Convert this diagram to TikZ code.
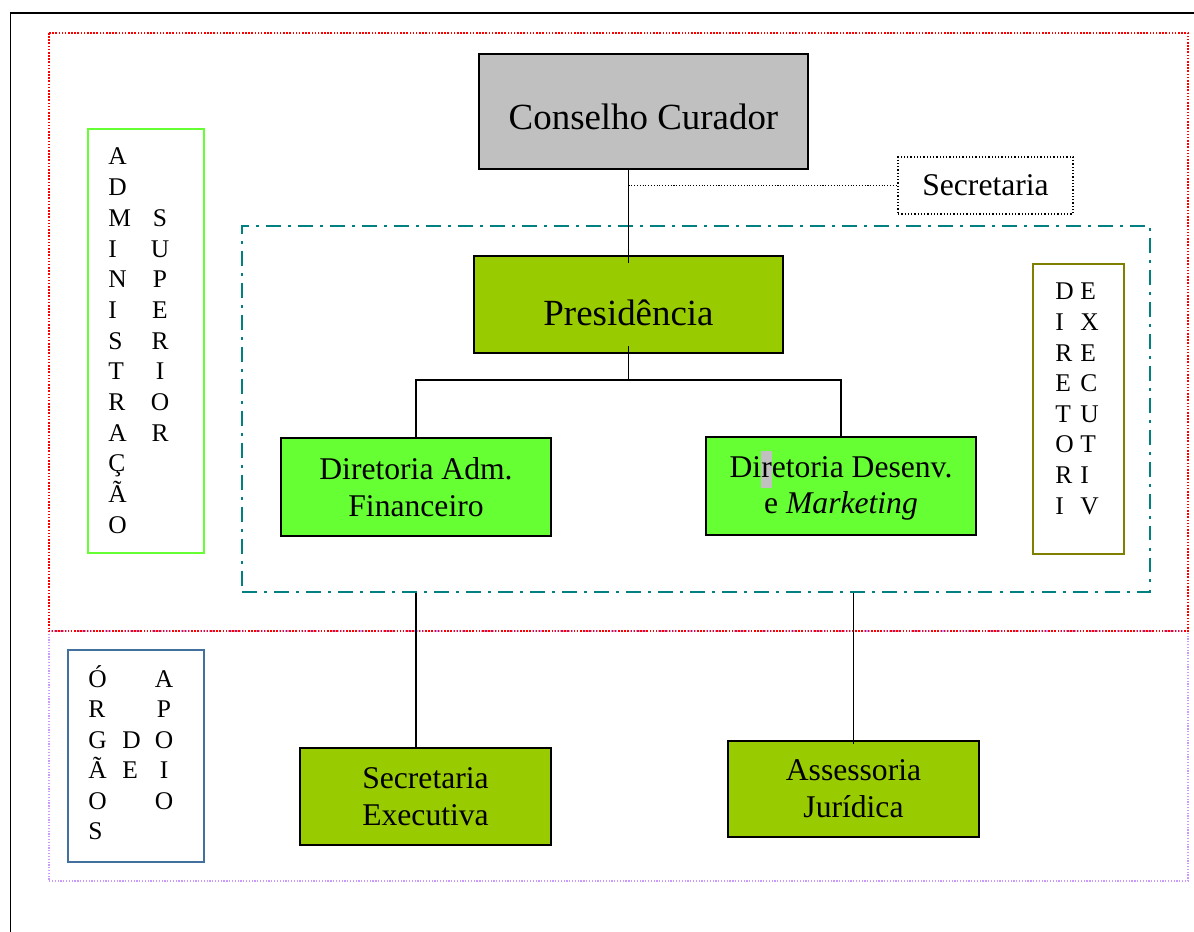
\documentclass[tikz,border=0pt]{standalone}
\usepackage{fontspec}
\setmainfont{Liberation Serif}
\usepackage{xcolor}
\usepackage{tikz}
\usetikzlibrary{positioning, calc}
\definecolor{cinza}{HTML}{C0C0C0}
\definecolor{oliva}{HTML}{99CC00}
\definecolor{verde}{HTML}{66FF33}
\definecolor{violeta}{HTML}{CC99FF}
\definecolor{petroleo}{HTML}{008080}
\definecolor{musgo}{HTML}{808000}
\definecolor{azul}{HTML}{41719C}
\tikzstyle{link} = [line width=0.8pt]
\tikzstyle{unit} = [rectangle, draw=black, line width=1pt, align=center, inner sep=0pt, font=\fontsize{18}{21}\selectfont]
\tikzstyle{topunit} = [unit, font=\fontsize{21}{25}\selectfont, text depth=0pt]
\tikzstyle{faixa} = [rectangle, line width=1.2pt, inner sep=0pt]
\tikzstyle{letra} = [inner sep=0pt, font=\fontsize{14.5}{17.4}\selectfont]

\begin{document}
\begin{tikzpicture}[x=0.02cm, y=-0.02cm]
    \useasboundingbox (0,0) rectangle (1194,932);

    % Frame and areas
    \draw[line width=1.1pt] (1194,13) -- (10.5,13) -- (10.5,932);
    \draw[violeta, line width=0.7pt, dash pattern=on 0.7pt off 0.9pt] (49,631) rectangle (1188,881);
    \draw[red, line width=0.9pt, dash pattern=on 0.9pt off 0.9pt] (49,33) rectangle (1188,631);
    \node[faixa, draw=petroleo, line width=1pt, dash pattern=on 8.5pt off 4pt on 1.7pt off 4pt,
          minimum width=18.16cm, minimum height=7.32cm] (executiva) at (696,409) {};

    % Units
    \node[topunit, fill=cinza, text height=21pt, minimum width=6.58cm, minimum height=2.3cm] (conselho) at (643.5,111.5) {Conselho Curador};
    \node[unit, draw=black, line width=0.75pt, dash pattern=on 0.75pt off 1.1pt,
          minimum width=3.5cm, minimum height=1.14cm] (secretaria) at (985.5,185.5) {Secretaria};
    \node[topunit, fill=oliva, text height=24.4pt, minimum width=6.18cm, minimum height=1.94cm] (presidencia) at (628.5,304.5) {Presidência};
    \node[unit, fill=verde, minimum width=5.4cm, minimum height=1.96cm] (diradm) at (416,487) {Diretoria Adm.\\Financeiro};
    \node[unit, fill=verde, minimum width=5.4cm, minimum height=1.96cm] (dirdes) at (841,486)
        {Di{\setlength\fboxsep{0pt}\colorbox{cinza}{\strut r}}etoria Desenv.\\e \textit{Marketing}};
    \node[unit, fill=oliva, minimum width=5.02cm, minimum height=1.94cm] (secexec) at (425.5,796.5) {Secretaria\\Executiva};
    \node[unit, fill=oliva, minimum width=5.02cm, minimum height=1.92cm] (assessoria) at (853.5,789) {Assessoria\\Jurídica};

    % Labels of the areas
    \node[faixa, draw=verde, minimum width=2.32cm, minimum height=8.48cm] (admsup) at (146,341) {};
    \node[faixa, draw=musgo, minimum width=1.82cm, minimum height=5.8cm] (direx) at (1078.5,409) {};
    \node[faixa, draw=azul, minimum width=2.72cm, minimum height=4.24cm] (orgaos) at (136,756) {};
    \foreach \l [count=\i from 0] in {A,D,M,I,N,I,S,T,R,A,Ç,Ã,O}
        \node[letra, anchor=base west] (adm\i) at (108,{165+30.7*\i}) {\l};
    \foreach \l [count=\i from 2] in {S,U,P,E,R,I,O,R}
        \node[letra, anchor=base] (sup\i) at (160,{165+30.7*\i}) {\l};
    \foreach \l [count=\i from 0] in {D,I,R,E,T,O,R,I}
        \node[letra, anchor=base west] (dir\i) at (1055,{300+30.6*\i}) {\l};
    \foreach \l [count=\i from 0] in {E,X,E,C,U,T,I,V}
        \node[letra, anchor=base west] (exe\i) at (1080,{300+30.6*\i}) {\l};
    \foreach \l [count=\i from 0] in {Ó,R,G,Ã,O,S}
        \node[letra, anchor=base west] (org\i) at (88,{687+30.5*\i}) {\l};
    \foreach \l [count=\i from 2] in {D,E}
        \node[letra, anchor=base west] (de\i) at (122,{687+30.5*\i}) {\l};
    \foreach \l [count=\i from 0] in {A,P,O,I,O}
        \node[letra, anchor=base] (apo\i) at (164,{687+30.5*\i}) {\l};

    % Connectors
    \coordinate (bus) at (presidencia.south |- 0,380);
    \draw[link] (presidencia.north |- conselho.south) -- ([yshift=-0.15cm]presidencia.north);
    \draw[black, line width=0.5pt, dash pattern=on 0.6pt off 1pt] (presidencia.north |- secretaria.west) -- (secretaria.west);
    \draw[link] ([yshift=0.16cm]presidencia.south) -- (bus);
    \draw[link] (diradm.north) |- (bus) -| (dirdes.north);
    \draw[link] (diradm.south |- executiva.south) -- (diradm.south |- secexec.north);
    \draw[link] (assessoria.north |- executiva.south) -- ([yshift=-0.08cm]assessoria.north);

\end{tikzpicture}
\end{document}
